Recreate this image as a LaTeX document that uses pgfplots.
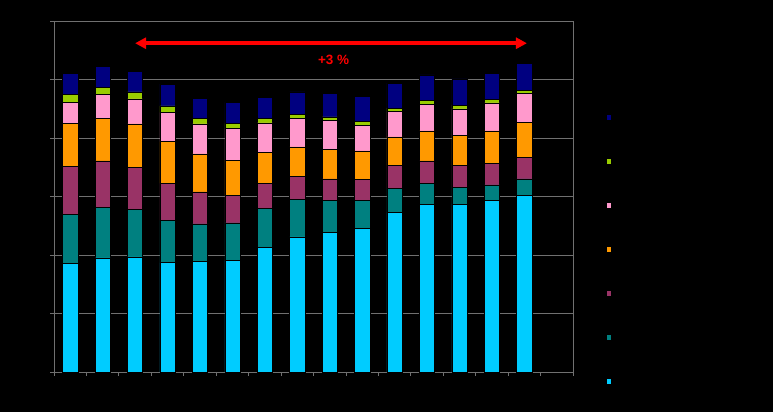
\documentclass[border=0pt]{standalone}
\usepackage{fontspec}
\setmainfont{Liberation Sans}
\usepackage{pgfplots}
\pgfplotsset{compat=1.18}
\usetikzlibrary{arrows.meta}
\definecolor{c_cyan}{HTML}{00CCFF}
\definecolor{c_teal}{HTML}{008080}
\definecolor{c_plum}{HTML}{993366}
\definecolor{c_orange}{HTML}{FF9900}
\definecolor{c_pink}{HTML}{FF99CC}
\definecolor{c_lime}{HTML}{99CC00}
\definecolor{c_navy}{HTML}{000080}
\definecolor{gridgray}{HTML}{707070}

\begin{document}
\begin{tikzpicture}[x=1bp,y=1bp]
\fill[black] (0,0) rectangle (773,412);
\useasboundingbox (0,0) rectangle (773,412);
\begin{axis}[
    at={(54bp,40bp)}, anchor=south west,
    scale only axis, width=519bp, height=351bp,
    ybar stacked, bar width=15.3bp,
    xmin=-0.5, xmax=15.5, ymin=0, ymax=600,
    xtick={-0.5,0.5,...,15.5}, xticklabels={},
    ytick={0,100,...,600},
    ymajorgrids,
    grid style={color=gridgray, line width=0.8bp},
    axis line style={color=gridgray, line width=0.8bp},
    tick style={color=gridgray, line width=0.8bp},
    tick align=outside, major tick length=4bp,
    xtick pos=bottom, ytick pos=left,
    yticklabel style={text=black, font=\small},
    every axis plot/.append style={draw=black, line width=0.5bp},
    legend image code/.code={\draw[#1] (0bp,-2.8bp) rectangle (5.6bp,2.8bp);},
    reverse legend,
    legend style={draw=none, fill=none, at={(1.0626,0.3494)}, anchor=west,
        inner sep=0pt, row sep=36.6bp, font=\fontsize{8}{8}\selectfont,
        nodes={inner sep=0pt, text=black}},
]
\addplot[fill=c_cyan] coordinates {(0,186) (1,195) (2,197) (3,187) (4,189) (5,191) (6,213) (7,231) (8,239) (9,246) (10,273) (11,287) (12,287) (13,293) (14,302)};
\addlegendentry{Série 1}
\addplot[fill=c_teal] coordinates {(0,84) (1,86) (2,81) (3,72) (4,64) (5,64) (6,67) (7,64) (8,54) (9,48) (10,41) (11,36) (12,29) (13,27) (14,28)};
\addlegendentry{Série 2}
\addplot[fill=c_plum] coordinates {(0,82) (1,80) (2,72) (3,64) (4,55) (5,47) (6,43) (7,40) (8,37) (9,35) (10,39) (11,38) (12,37) (13,37) (14,37)};
\addlegendentry{Série 3}
\addplot[fill=c_orange] coordinates {(0,73) (1,73) (2,74) (3,71) (4,65) (5,60) (6,52) (7,50) (8,51) (9,49) (10,49) (11,51) (12,51) (13,55) (14,60)};
\addlegendentry{Série 4}
\addplot[fill=c_pink] coordinates {(0,36) (1,41) (2,43) (3,50) (4,51) (5,55) (6,51) (7,49) (8,49) (9,44) (10,43) (11,46) (12,46) (13,48) (14,49)};
\addlegendentry{Série 5}
\addplot[fill=c_lime] coordinates {(0,14) (1,12) (2,12) (3,11) (4,9) (5,8) (6,8) (7,7) (8,6) (9,6) (10,6) (11,6) (12,6) (13,6) (14,6)};
\addlegendentry{Série 6}
\addplot[fill=c_navy] coordinates {(0,35) (1,36) (2,35) (3,37) (4,35) (5,36) (6,36) (7,38) (8,40) (9,43) (10,43) (11,44) (12,45) (13,45) (14,46)};
\addlegendentry{Série 7}
\draw[red, line width=3.6bp, {Triangle[length=11bp,width=11bp]}-{Triangle[length=11bp,width=11bp]}]
    (axis cs:2,562) -- (axis cs:14.08,562);
\node[text=red, font=\fontsize{13.5}{13.5}\selectfont\bfseries] at (axis cs:8.12,533) {+3 \%};
\end{axis}
\end{tikzpicture}
\end{document}
